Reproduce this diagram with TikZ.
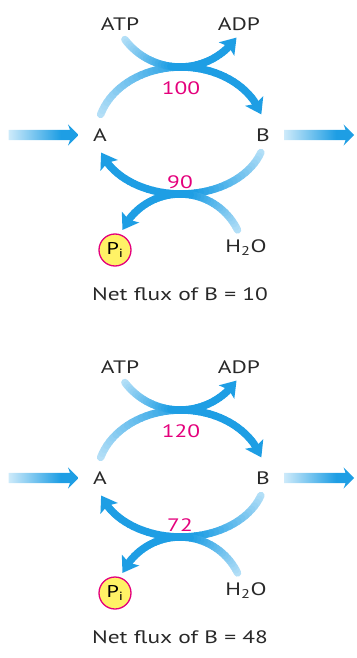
\documentclass[tikz,border=0pt]{standalone}
\usepackage{fontspec}
\setmainfont{PT Sans}[FakeStretch=1.3]
\usetikzlibrary{arrows.meta,calc,positioning,shapes.arrows}

\definecolor{fluxblue}{RGB}{30,158,228}
\definecolor{fluxpale}{RGB}{205,234,250}
\definecolor{ratepink}{RGB}{228,0,124}
\definecolor{piyellow}{RGB}{255,242,102}
\definecolor{labelgray}{RGB}{40,40,40}

\pgfdeclarehorizontalshading{fluxshade}{100bp}{color(0bp)=(fluxpale); color(25bp)=(fluxpale); color(62bp)=(fluxblue); color(100bp)=(fluxblue)}

\tikzset{
  flux/.style={line width=7.5pt, line cap=round},
  lbl/.style={text=labelgray, inner sep=0pt, font=\fontsize{18}{20}\selectfont},
  rate/.style={text=ratepink, inner sep=0pt, font=\fontsize{18}{20}\selectfont},
  pibox/.style={circle, draw=ratepink, fill=piyellow, line width=1.3pt, minimum size=32pt, inner sep=0pt, font=\fontsize{17}{19}\selectfont},
  sidearrow/.style={single arrow, shade, shading=fluxshade, draw=none, minimum height=70pt, minimum width=21pt, single arrow head extend=5.5pt, single arrow head indent=2pt, inner sep=5pt}
}

% #1 centre, #2 x radius, #3 y radius, #4 start angle, #5 end angle, #6 share of the arc that fades in
\newcommand{\fluxarc}[6]{%
  \pgfmathsetmacro{\fluxstop}{(#5)-((#5)-(#4))/abs((#5)-(#4))*12}
  \foreach \k in {1,...,36}{
    \pgfmathsetmacro{\ta}{(#4)+(\fluxstop-(#4))*(\k-1)/36}
    \pgfmathsetmacro{\tb}{(#4)+(\fluxstop-(#4))*\k/36}
    \pgfmathtruncatemacro{\pc}{min(100,10+90*\k/(36*#6))}
    \draw[flux, fluxblue!\pc!fluxpale] ($(#1)+(\ta:#2 and #3)$) -- ($(#1)+(\tb:#2 and #3)$);
  }
  \draw[line width=7.5pt, fluxblue, -{Stealth[length=15pt,width=20pt,inset=3pt]}] ($(#1)+(\fluxstop:#2 and #3)$) -- ($(#1)+(#5:#2 and #3)$);
}

\begin{document}
\begin{tikzpicture}[x=1pt, y=-1pt]
  \useasboundingbox (0,0) rectangle (356,658);
  \foreach \dy/\fwd/\bwd/\net/\p in {0/100/90/10/1, 343/120/72/48/2}{
    % centres of the cycle and of the two side reactions
    \coordinate (C\p) at (181,134+\dy);
    \coordinate (Ctop\p) at (180,-2+\dy);
    \coordinate (Cbot\p) at (180,258+\dy);

    % A -> B with ATP -> ADP
    \fluxarc{C\p}{84}{67}{-163}{-17}{0.6}
    \fluxarc{Ctop\p}{69}{69}{143}{35}{0.5}
    % B -> A with H2O -> Pi
    \fluxarc{C\p}{84}{60}{18}{162}{0.5}
    \fluxarc{Cbot\p}{64}{64}{-26}{-154}{0.5}

    \node[lbl] (A\p) at (100,135+\dy) {A};
    \node[lbl] (B\p) at (263,135+\dy) {B};
    \node[lbl] (atp\p) at (120,24+\dy) {ATP};
    \node[lbl] (adp\p) at (239,24+\dy) {ADP};
    \node[rate] (fwd\p) at (181,88+\dy) {\fwd};
    \node[rate] (bwd\p) at (180,182+\dy) {\bwd};
    \node[pibox] (pi\p) at (115,250+\dy) {P\textsubscript{i}};
    \node[lbl] (water\p) at (246,248+\dy) {H\textsubscript{2}O};
    \node[lbl] (net\p) at (180,294+\dy) {Net flux of B = \net};

    \node[sidearrow, left=14pt of A\p] (in\p) {};
    \node[sidearrow, right=14pt of B\p] (out\p) {};
  }
\end{tikzpicture}
\end{document}
